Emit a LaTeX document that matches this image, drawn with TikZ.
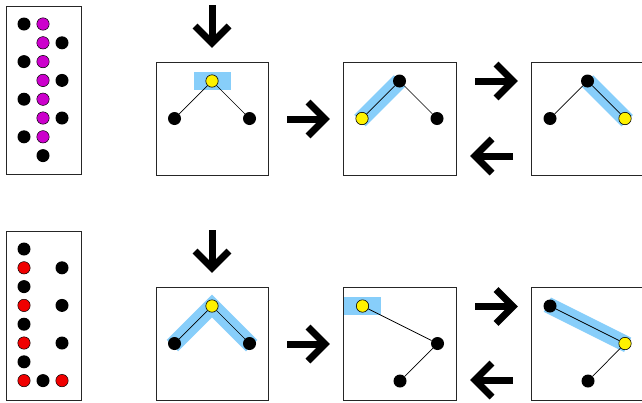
\documentclass[tikz,border=0pt]{standalone}
\usetikzlibrary{calc}
\pgfdeclarelayer{bg}
\pgfsetlayers{bg,main}
\definecolor{hlblue}{RGB}{135,206,250}
\definecolor{dotmag}{RGB}{204,0,204}
\definecolor{dotred}{RGB}{240,0,0}
\tikzset{
  dot/.style={circle, inner sep=0pt, minimum size=13pt},
  blk/.style={dot, fill=black},
  ylw/.style={dot, fill=yellow, draw=black, line width=0.6pt, minimum size=12.4pt},
  mg/.style={dot, fill=dotmag, draw=black, line width=0.5pt, minimum size=12.4pt},
  rd/.style={dot, fill=dotred, draw=black, line width=0.5pt, minimum size=12.4pt},
  frame/.style={draw=black!85, line width=0.9pt},
  edge/.style={draw=black, line width=0.7pt},
  hlband/.style={draw=hlblue, line width=16pt, line cap=butt, line join=miter},
  hlbox/.style={fill=hlblue, inner sep=0pt, minimum width=37pt, minimum height=18pt},
  shaft/.style={line width=7pt, line cap=butt},
  chev/.style={line width=7pt, line cap=butt, line join=miter},
}
\begin{document}
\begin{tikzpicture}[x=1pt,y=-1pt]
\useasboundingbox (0,0) rectangle (642,402);
\clip (0,0) rectangle (642,402);

% ---------- left legend boxes ----------
\draw[frame] (6,6) rectangle (81,174.5);
\node[blk] (la0) at (24,24) {};   \node[mg] (lm0) at (43,24) {};
\node[mg] (lm1) at (43,42.8) {};  \node[blk] (lr1) at (62,42.8) {};
\node[blk] (la2) at (24,61.6) {}; \node[mg] (lm2) at (43,61.6) {};
\node[mg] (lm3) at (43,80.4) {};  \node[blk] (lr3) at (62,80.4) {};
\node[blk] (la4) at (24,99.2) {}; \node[mg] (lm4) at (43,99.2) {};
\node[mg] (lm5) at (43,118) {};   \node[blk] (lr5) at (62,118) {};
\node[blk] (la6) at (24,136.8) {};\node[mg] (lm6) at (43,136.8) {};
\node[blk] (lm7) at (43,155.6) {};

\draw[frame] (6,231.5) rectangle (81,400);
\node[blk] (ka0) at (24,249) {};
\node[rd] (ka1) at (24,267.8) {};  \node[blk] (kr1) at (62,267.8) {};
\node[blk] (ka2) at (24,286.6) {};
\node[rd] (ka3) at (24,305.4) {};  \node[blk] (kr3) at (62,305.4) {};
\node[blk] (ka4) at (24,324.2) {};
\node[rd] (ka5) at (24,343) {};    \node[blk] (kr5) at (62,343) {};
\node[blk] (ka6) at (24,361.8) {};
\node[rd] (ka7) at (24,380.6) {};  \node[blk] (km7) at (43,380.6) {}; \node[rd] (kr7) at (62,380.6) {};

% ---------- frames ----------
\draw[frame] (156,62.5) rectangle (268,175);
\draw[frame] (343.5,62.5) rectangle (456,175);
\draw[frame] (531.5,62.5) rectangle (644,175);
\draw[frame] (156,287.5) rectangle (268,400);
\draw[frame] (343.5,287.5) rectangle (456,400);
\draw[frame] (531.5,287.5) rectangle (644,400);

% ---------- top row nodes ----------
\node[hlbox] (t1h) at (212,81) {};
\node[ylw] (t1y) at (212,81) {};
\node[blk] (t1l) at (174.5,118.5) {};
\node[blk] (t1r) at (249.5,118.5) {};

\node[blk] (t2t) at (399.5,81) {};
\node[ylw] (t2y) at (362,118.5) {};
\node[blk] (t2r) at (437,118.5) {};

\node[blk] (t3t) at (587.5,81) {};
\node[blk] (t3l) at (550,118.5) {};
\node[ylw] (t3y) at (625,118.5) {};

% ---------- bottom row nodes ----------
\node[ylw] (b1y) at (212,306) {};
\node[blk] (b1l) at (174.5,343.5) {};
\node[blk] (b1r) at (249.5,343.5) {};

\node[hlbox] (b2h) at (362.5,306) {};
\node[ylw] (b2y) at (362.5,306) {};
\node[blk] (b2m) at (437.5,343.5) {};
\node[blk] (b2b) at (400,381) {};

\node[blk] (b3t) at (550,306) {};
\node[ylw] (b3y) at (625,343.5) {};
\node[blk] (b3b) at (588,381) {};

\begin{pgfonlayer}{bg}
  \fill[white] (0,0) rectangle (642,402);
  \draw[hlband, shorten <=-3pt] (t2y.center) -- (t2t.center);
  \draw[hlband, shorten >=-3pt] (t3t.center) -- (t3y.center);
  \draw[hlband, shorten <=-3pt, shorten >=-3pt] (b1l.center) -- (b1y.center) -- (b1r.center);
  \draw[hlband, shorten <=-3pt, shorten >=-3pt] (b3t.center) -- (b3y.center);
\end{pgfonlayer}

% ---------- connectors ----------
\draw[edge] (t1y) -- (t1l);  \draw[edge] (t1y) -- (t1r);
\draw[edge] (t2t) -- (t2y);  \draw[edge] (t2t) -- (t2r);
\draw[edge] (t3t) -- (t3l);  \draw[edge] (t3t) -- (t3y);
\draw[edge] (b1y) -- (b1l);  \draw[edge] (b1y) -- (b1r);
\draw[edge] (b2y) -- (b2m);  \draw[edge] (b2m) -- (b2b);
\draw[edge] (b3t) -- (b3y);  \draw[edge] (b3y) -- (b3b);

% ---------- big arrows ----------
% down arrows
\coordinate (d1s) at (212,5);   \coordinate (d1v) at (212,43);
\draw[shaft] (d1s) -- (d1v);
\draw[chev] ($(d1v)+(-17,-17)$) -- (d1v) -- ($(d1v)+(17,-17)$);
\coordinate (d2s) at (212,230); \coordinate (d2v) at (212,268);
\draw[shaft] (d2s) -- (d2v);
\draw[chev] ($(d2v)+(-17,-17)$) -- (d2v) -- ($(d2v)+(17,-17)$);
% right arrows
\coordinate (r1s) at (287,119); \coordinate (r1v) at (325,119);
\draw[shaft] (r1s) -- (r1v);
\draw[chev] ($(r1v)+(-17,-17)$) -- (r1v) -- ($(r1v)+(-17,17)$);
\coordinate (r2s) at (287,344); \coordinate (r2v) at (325,344);
\draw[shaft] (r2s) -- (r2v);
\draw[chev] ($(r2v)+(-17,-17)$) -- (r2v) -- ($(r2v)+(-17,17)$);
\coordinate (r3s) at (475,81);  \coordinate (r3v) at (513,81);
\draw[shaft] (r3s) -- (r3v);
\draw[chev] ($(r3v)+(-17,-17)$) -- (r3v) -- ($(r3v)+(-17,17)$);
\coordinate (r4s) at (475,306.5); \coordinate (r4v) at (513,306.5);
\draw[shaft] (r4s) -- (r4v);
\draw[chev] ($(r4v)+(-17,-17)$) -- (r4v) -- ($(r4v)+(-17,17)$);
% left arrows
\coordinate (l1s) at (513,156); \coordinate (l1v) at (475,156);
\draw[shaft] (l1s) -- (l1v);
\draw[chev] ($(l1v)+(17,-17)$) -- (l1v) -- ($(l1v)+(17,17)$);
\coordinate (l2s) at (513,380); \coordinate (l2v) at (475,380);
\draw[shaft] (l2s) -- (l2v);
\draw[chev] ($(l2v)+(17,-17)$) -- (l2v) -- ($(l2v)+(17,17)$);
\end{tikzpicture}
\end{document}
